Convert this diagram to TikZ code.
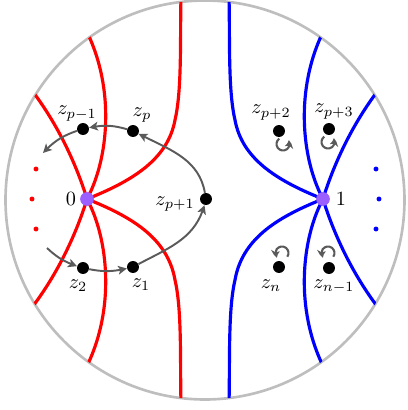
\documentclass[tikz,border=0pt]{standalone}
\usetikzlibrary{arrows.meta,bending}
\definecolor{ringgray}{RGB}{190,190,190}
\definecolor{arrowgray}{RGB}{90,90,90}
\definecolor{critpurple}{RGB}{155,95,255}
\pgfdeclarelayer{bg}
\pgfsetlayers{bg,main}
\begin{document}
\begin{tikzpicture}[x=0.02cm,y=0.02cm,
  redline/.style={red, line width=1.8pt},
  blueline/.style={blue, line width=1.8pt},
  dotnode/.style={circle, fill=black, inner sep=0pt, minimum size=6.8pt},
  critnode/.style={circle, fill=critpurple, inner sep=0pt, minimum size=7.8pt},
  smalldot/.style={circle, inner sep=0pt, minimum size=2.8pt},
  garrow/.style={arrowgray, line width=1.1pt, -{Stealth[length=5pt,width=5pt,inset=1.2pt,bend]}},
  rotarrow/.style={arrowgray, line width=1.2pt, -{Stealth[length=4.2pt,width=4.8pt,inset=1pt,bend]}},
  lbl/.style={anchor=base, inner sep=0pt, scale=1.15},
]
\useasboundingbox (0,0) rectangle (407,410);

% critical points
\node[critnode] (O0) at (87,211) {};
\node[critnode] (O1) at (323,211) {};

% marked points
\node[dotnode] (pp1) at (206,211) {};
\node[dotnode] (zp) at (133,279) {};
\node[dotnode] (zpm1) at (83,281) {};
\node[dotnode] (z2) at (83,142) {};
\node[dotnode] (z1) at (133,143) {};
\node[dotnode] (zpp2) at (279,279) {};
\node[dotnode] (zpp3) at (329,281) {};
\node[dotnode] (zn) at (279,143) {};
\node[dotnode] (znm1) at (329,142) {};

% small dots
\node[smalldot, fill=red] (rd1) at (36,241) {};
\node[smalldot, fill=red] (rd2) at (32,211) {};
\node[smalldot, fill=red] (rd3) at (36,181) {};
\node[smalldot, fill=blue] (bd1) at (376,241) {};
\node[smalldot, fill=blue] (bd2) at (379,211) {};
\node[smalldot, fill=blue] (bd3) at (376,181) {};

% labels
\node[lbl] (lzpm1) at (77,295) {$z_{p-1}$};
\node[lbl] (lzp) at (142,294) {$z_{p}$};
\node[lbl] (l0) at (71,205) {$0$};
\node[lbl] (l1) at (341,205) {$1$};
\node[lbl] (lpp1) at (175,205) {$z_{p+1}$};
\node[lbl] (lz2) at (78,122) {$z_{2}$};
\node[lbl] (lz1) at (141,123) {$z_{1}$};
\node[lbl] (lpp2) at (271,296) {$z_{p+2}$};
\node[lbl] (lpp3) at (334,297) {$z_{p+3}$};
\node[lbl] (lzn) at (271,122) {$z_{n}$};
\node[lbl] (lznm1) at (334,122) {$z_{n-1}$};

\begin{pgfonlayer}{bg}
\draw[ringgray, line width=1.5pt] (205,210) circle (199.5);
\begin{scope}
\clip (205,210) circle (199.5);
% red trajectories
\draw[redline] (O0.center) .. controls (75,250) and (55,290) .. (30,322);
\draw[redline] (O0.center) .. controls (75,172) and (55,132) .. (30,100);
\draw[redline] (O0.center) .. controls (108,250) and (116,320) .. (86,380);
\draw[redline] (O0.center) .. controls (108,172) and (116,102) .. (86,42);
\draw[redline] (O0.center) .. controls (135,230) and (168,252) .. (175,290) .. controls (182,320) and (180,370) .. (181,415);
\draw[redline] (O0.center) .. controls (135,192) and (168,170) .. (175,130) .. controls (182,100) and (180,50) .. (181,5);
% blue trajectories
\draw[blueline] (O1.center) .. controls (335,250) and (355,290) .. (380,322);
\draw[blueline] (O1.center) .. controls (335,172) and (355,132) .. (380,100);
\draw[blueline] (O1.center) .. controls (302,250) and (294,320) .. (324,380);
\draw[blueline] (O1.center) .. controls (302,172) and (294,102) .. (324,42);
\draw[blueline] (O1.center) .. controls (275,230) and (242,252) .. (235,290) .. controls (228,320) and (230,370) .. (229,415);
\draw[blueline] (O1.center) .. controls (275,192) and (242,170) .. (235,130) .. controls (228,100) and (230,50) .. (229,5);
\end{scope}
\end{pgfonlayer}

% monodromy arrows
\coordinate (fe1) at (43,257);
\coordinate (fs2) at (47,162);
\draw[garrow] (pp1) to[out=100,in=-27] (zp);
\draw[garrow] (z1) to[out=28,in=-105] (pp1);
\draw[garrow] (zp) to[bend right=14] (zpm1);
\draw[garrow] (zpm1) to[bend right=14] (fe1);
\draw[garrow] (fs2) to[bend right=12] (z2);
\draw[garrow] (z2) to[bend right=12] (z1);

% rotation arrows
\draw[rotarrow] (zpp2.center) ++(4,-13) ++(125:6.5) arc[start angle=125, end angle=395, radius=6.5];
\draw[rotarrow] (zpp3.center) ++(-1,-13) ++(125:6.5) arc[start angle=125, end angle=395, radius=6.5];
\draw[rotarrow] (zn.center) ++(3,14) ++(-35:6.5) arc[start angle=-35, end angle=225, radius=6.5];
\draw[rotarrow] (znm1.center) ++(-1,15) ++(-35:6.5) arc[start angle=-35, end angle=225, radius=6.5];
\end{tikzpicture}
\end{document}
